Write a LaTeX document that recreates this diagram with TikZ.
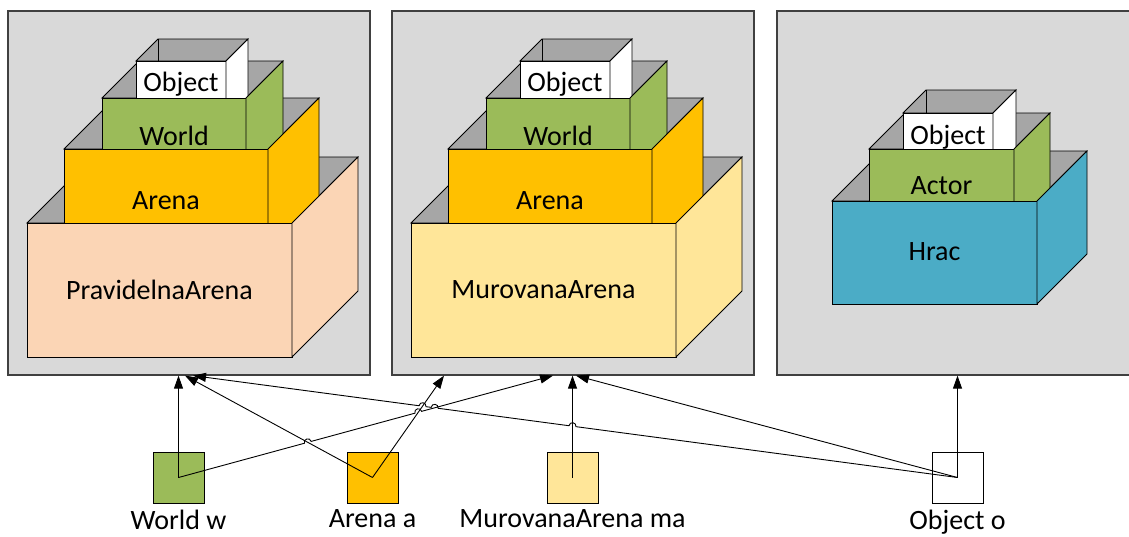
\documentclass[tikz,border=0pt]{standalone}
\usepackage{fontspec}
\setmainfont{Carlito}
\usetikzlibrary{arrows.meta,positioning,calc,intersections}
\definecolor{panelbg}{HTML}{D9D9D9}
\definecolor{panelline}{HTML}{404040}
\definecolor{inside}{HTML}{A6A6A6}
\definecolor{world}{HTML}{9BBB59}
\definecolor{arena}{HTML}{FFC000}
\definecolor{pravidelna}{HTML}{FBD5B5}
\definecolor{murovana}{HTML}{FFE699}
\definecolor{hrac}{HTML}{4BACC6}
% open top of a box: x1, y1, x2, depth
\newcommand{\boxtop}[4]{\draw[boxline,fill=inside] (#1,#2) -- (#1+#4,#2-#4) -- (#3+#4,#2-#4) -- (#3,#2) -- cycle;
\draw[boxline] (#1+#4,#2-#4) -- (#1+#4,#2);}
% front and side of a box: name, x1, y1, x2, y2, depth, fill, text
\newcommand{\boxfront}[8]{\draw[boxline,fill=#7] (#2,#3) rectangle (#4,#5);
\draw[boxline,fill=#7] (#4,#3) -- (#4+#6,#3-#6) -- (#4+#6,#5-#6) -- (#4,#5) -- cycle;
\node[boxlabel] (#1) at ({(#2+#4)/2},#3+#6+1) {#8};}
\newcommand{\jumpr}{3.5pt}

\begin{document}
\begin{tikzpicture}[x=1pt,y=-1pt,
  panel/.style={draw=panelline,fill=panelbg,line width=1.2pt,inner sep=0,minimum height=364pt},
  boxline/.style={draw=black,line width=0.8pt},
  boxlabel/.style={inner sep=0,font=\fontsize{28}{32}\selectfont},
  sq/.style={draw=black,line width=0.8pt,minimum size=51pt,inner sep=0},
  caption/.style={inner sep=0,font=\fontsize{28}{32}\selectfont},
  link/.style={draw=black,line width=0.9pt,-{Triangle[length=13pt,width=9pt]}},
  hopl/.style={bend left=90,looseness=1.7},
  hopr/.style={bend right=90,looseness=1.7}]
\useasboundingbox (0,0) rectangle (1129,536);

\node[panel,minimum width=362pt] (p1) at (189,193) {};
\node[panel,minimum width=362pt] (p2) at (573,193) {};
\node[panel,minimum width=354pt] (p3) at (954,193) {};

\boxtop{27}{223}{292}{66}
\boxtop{64}{149}{268}{51}
\boxtop{102}{98}{246}{37}
\boxtop{136}{61}{226}{22}
\boxfront{o1}{136}{61}{226}{357}{22}{white}{Object}
\boxfront{w1}{102}{98}{246}{357}{37}{world}{World}
\boxfront{a1}{64}{149}{268}{357}{51}{arena}{Arena}
\boxfront{pa}{27}{223}{292}{357}{66}{pravidelna}{PravidelnaArena}

\begin{scope}[xshift=384pt]
\boxtop{27}{223}{292}{66}
\boxtop{64}{149}{268}{51}
\boxtop{102}{98}{246}{37}
\boxtop{136}{61}{226}{22}
\boxfront{o2}{136}{61}{226}{357}{22}{white}{Object}
\boxfront{w2}{102}{98}{246}{357}{37}{world}{World}
\boxfront{a2}{64}{149}{268}{357}{51}{arena}{Arena}
\boxfront{ma2}{27}{223}{292}{357}{66}{murovana}{MurovanaArena}
\end{scope}

\boxtop{832}{201}{1037}{50}
\boxtop{869}{149}{1014}{36}
\boxtop{903}{113}{993}{23}
\boxfront{o3}{903}{113}{993}{304}{23}{white}{Object}
\boxfront{ac}{869}{149}{1014}{304}{36}{world}{Actor}
\boxfront{hr}{832}{201}{1037}{304}{50}{hrac}{Hrac}

\node[sq,fill=world] (w) at (178.5,477.5) {};
\node[sq,fill=arena] (a) at (372.5,477.5) {};
\node[sq,fill=murovana] (ma) at (572.5,477.5) {};
\node[sq,fill=white] (o) at (957.5,477.5) {};
\node[caption,below=6pt of w] (wl) {World w};
\node[caption,below=6pt of a] (al) {Arena a};
\node[caption,below=6pt of ma] (mal) {MurovanaArena ma};
\node[caption,below=6pt of o] (ol) {Object o};

\draw[link] (w.center) -- (w.center |- p1.south);
\draw[link,name path=ap1] (a.center) -- ([xshift=-4pt]p1.south);
\draw[link,name path=ap2] (a.center) -- ([xshift=-129pt]p2.south);
\draw[link,name path=map2] (ma.center) -- (ma.center |- p2.south);
\draw[link] (o.center) -- ([xshift=3pt]p2.south);
\draw[link] (o.center) -- (o.center |- p3.south);
\path[name path=wp2] (w.center) -- ([xshift=-20pt]p2.south);
\path[name path=op1] (o.center) -- ([xshift=4pt]p1.south);
\path[name intersections={of=wp2 and ap1,by=j1}];
\path[name intersections={of=wp2 and ap2,by=j2}];
\path[name intersections={of=op1 and map2,by=j3}];
\path[name intersections={of=op1 and wp2,by=j4}];
\path[name intersections={of=op1 and ap2,by=j5}];
\draw[link] (w.center) -- ($(j1)!\jumpr!(w.center)$) to[hopl] ($(j1)!-\jumpr!(w.center)$)
  -- ($(j2)!\jumpr!(w.center)$) to[hopl] ($(j2)!-\jumpr!(w.center)$) -- ([xshift=-20pt]p2.south);
\draw[link] (o.center) -- ($(j3)!\jumpr!(o.center)$) to[hopr] ($(j3)!-\jumpr!(o.center)$)
  -- ($(j4)!\jumpr!(o.center)$) to[hopr] ($(j4)!-\jumpr!(o.center)$)
  -- ($(j5)!\jumpr!(o.center)$) to[hopr] ($(j5)!-\jumpr!(o.center)$) -- ([xshift=4pt]p1.south);
\end{tikzpicture}
\end{document}
